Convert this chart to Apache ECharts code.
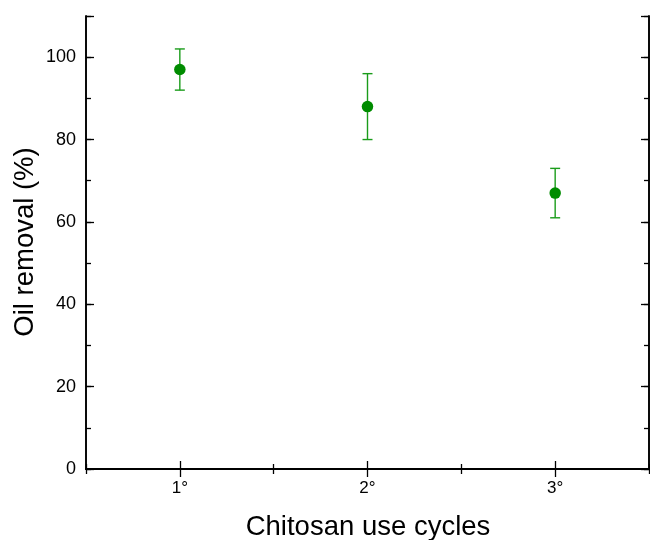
<!DOCTYPE html>
<html>
<head>
<meta charset="utf-8">
<script src="https://cdn.jsdelivr.net/npm/echarts@6/dist/echarts.min.js"></script>
<style>
  html, body { margin: 0; padding: 0; background: #fff; }
  #chart { width: 650px; height: 540px; }
</style>
</head>
<body>
<div id="chart"></div>
<script>
// data
const cycles = ['1°', '2°', '3°'];
const removal = [97, 88, 67];
const errLow = [92, 80, 61];
const errHigh = [102, 96, 73];

const font = 'Liberation Sans, Arial, sans-serif';
const dotColor = '#008c00';
const barColor = '#1a9c1a';

const chart = echarts.init(document.getElementById('chart'));

// shared bits for the boxed axes
const line = { show: true, lineStyle: { color: '#000', width: 1.6 } };
function catAxis(pos, major, labels) {
  return {
    type: 'category', data: cycles, position: pos, boundaryGap: true,
    axisLine: line,
    axisTick: { show: true, inside: true, alignWithLabel: major, length: major ? 8 : 5,
      lineStyle: { color: '#000', width: 1.3 } },
    axisLabel: { show: labels, color: '#000', fontSize: 17, fontFamily: font, margin: 11 },
    splitLine: { show: false }
  };
}
function valAxis(pos, interval, len, labels) {
  return {
    type: 'value', position: pos, min: 0, max: 110, interval: interval,
    axisLine: line,
    axisTick: { show: true, inside: true, length: len, lineStyle: { color: '#000', width: 1.3 } },
    axisLabel: { show: labels, color: '#000', fontSize: 18, fontFamily: font, margin: 10,
      formatter: v => (v % 20 === 0 && v <= 100) ? String(v) : '' },
    splitLine: { show: false }
  };
}

const option = {
  animation: false,
  backgroundColor: '#fff',
  grid: { left: 86, right: 1, top: 16, bottom: 71, containLabel: false },
  xAxis: [
    catAxis('bottom', true, true),
    catAxis('bottom', false, false),
    catAxis('top', true, false),
    catAxis('top', false, false)
  ],
  yAxis: [
    valAxis('left', 20, 8, true),
    valAxis('left', 10, 5, false),
    valAxis('right', 20, 8, false),
    valAxis('right', 10, 5, false)
  ],
  graphic: [
    { type: 'text', x: 368, y: 527,
      style: { text: 'Chitosan use cycles', fontSize: 27.5, fontFamily: font, fill: '#000',
        align: 'center', verticalAlign: 'middle' } },
    { type: 'text', x: 25, y: 242, rotation: Math.PI / 2, originX: 0, originY: 0,
      style: { text: 'Oil removal (%)', fontSize: 27.5, fontFamily: font, fill: '#000',
        align: 'center', verticalAlign: 'middle' } }
  ],
  series: [
    {
      type: 'custom',
      xAxisIndex: 0, yAxisIndex: 0,
      data: cycles.map((c, i) => [i, errLow[i], errHigh[i]]),
      renderItem: function (params, api) {
        const lo = api.coord([api.value(0), api.value(1)]);
        const hi = api.coord([api.value(0), api.value(2)]);
        const w = 5;
        const st = { stroke: barColor, lineWidth: 1.4 };
        return {
          type: 'group',
          children: [
            { type: 'line', shape: { x1: hi[0], y1: hi[1], x2: lo[0], y2: lo[1] }, style: st },
            { type: 'line', shape: { x1: hi[0] - w, y1: hi[1], x2: hi[0] + w, y2: hi[1] }, style: st },
            { type: 'line', shape: { x1: lo[0] - w, y1: lo[1], x2: lo[0] + w, y2: lo[1] }, style: st }
          ]
        };
      },
      z: 2
    },
    {
      type: 'scatter',
      xAxisIndex: 0, yAxisIndex: 0,
      data: removal,
      symbol: 'circle', symbolSize: 11.5,
      itemStyle: { color: dotColor, opacity: 1 },
      z: 3
    }
  ]
};

chart.setOption(option);
</script>
</body>
</html>
